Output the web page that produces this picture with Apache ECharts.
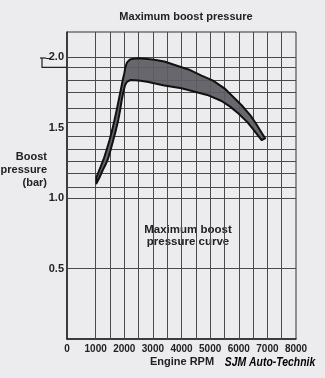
<!DOCTYPE html>
<html><head><meta charset="utf-8">
<script src="https://cdn.jsdelivr.net/npm/echarts@6/dist/echarts.min.js"></script>
<style>html,body{margin:0;padding:0;background:#ecebee;}#c{width:325px;height:378px;}</style>
</head><body><div id="c"></div>
<script>
// Engine RPM / boost pressure (bar)
const upperRpm = [1030, 1090, 1180, 1277, 1380, 1487, 1580, 1660, 1740, 1808, 1880, 1947, 2000, 2035, 2070, 2105, 2200, 2313, 2500, 3000, 3400, 4000, 4300, 4700, 5100, 5500, 5800, 6100, 6400, 6600, 6750, 6920];
const upperBar = [1.15, 1.18, 1.225, 1.275, 1.34, 1.413, 1.485, 1.555, 1.63, 1.697, 1.77, 1.839, 1.885, 1.924, 1.95, 1.966, 1.985, 1.99, 1.993, 1.985, 1.97, 1.93, 1.91, 1.87, 1.835, 1.78, 1.72, 1.66, 1.59, 1.53, 1.48, 1.425];
const lowerRpm = [1030, 1130, 1250, 1340, 1425, 1520, 1616, 1710, 1790, 1860, 1912, 1965, 2017, 2060, 2105, 2210, 2500, 2800, 3400, 4000, 4900, 5400, 5700, 6000, 6300, 6500, 6700, 6800];
const lowerBar = [1.105, 1.145, 1.2, 1.235, 1.275, 1.34, 1.413, 1.485, 1.555, 1.63, 1.697, 1.75, 1.795, 1.815, 1.827, 1.839, 1.835, 1.827, 1.80, 1.78, 1.733, 1.69, 1.65, 1.60, 1.54, 1.49, 1.437, 1.413];
const xTickLabels = ['0','1000','2000','3000','4000','5000','6000','7000','8000'];
const yTickLabels = ['0.5','1.0','1.5','2.0'];
const hGridValues = [0.5, 1.0, 1.082, 1.177, 1.26, 1.355, 1.437, 1.536, 1.638, 1.745, 1.843, 1.926, 2.0];
const vGridValues = [1000,1500,2000,2500,3000,3500,4000,4500,5000,5500,6000,6500,7000,7500];

const FONT = "'Liberation Sans', Arial, sans-serif";
const chart = echarts.init(document.getElementById('c'), null, {renderer:'canvas'});
chart.setOption({
  backgroundColor: '#ecebee',
  animation: false,
  grid: {left: 67, right: 29, top: 32, bottom: 39, show: true, borderColor: '#333', borderWidth: 1},
  xAxis: {
    type: 'value', min: 0, max: 8000, interval: 1000,
    axisLine: {show: true, lineStyle: {color: '#222', width: 1.5}},
    axisTick: {show: false}, splitLine: {show: false},
    axisLabel: {color: '#222', fontSize: 10, fontWeight: 'bold', fontFamily: FONT, margin: 5,
      formatter: v => xTickLabels[Math.round(v/1000)] || ''}
  },
  yAxis: {
    type: 'value', min: 0, max: 2.18, interval: 0.5,
    axisLine: {show: true, lineStyle: {color: '#222', width: 1.5}},
    axisTick: {show: false}, splitLine: {show: false},
    axisLabel: {color: '#222', fontSize: 11, fontWeight: 'bold', fontFamily: FONT, margin: 3,
      padding: [4, 0, 0, 0], showMaxLabel: false,
      formatter: v => { const i = Math.round(v/0.5) - 1; return (Math.abs(v - (i+1)*0.5) < 1e-6 && i >= 0) ? (yTickLabels[i] || '') : ''; }}
  },
  series: [
    {
      type: 'line', data: [], silent: true,
      markLine: {
        silent: true, symbol: 'none', label: {show: false},
        lineStyle: {color: '#4a4a4a', width: 1, type: 'solid'},
        data: hGridValues.map(v => ({yAxis: v})).concat(vGridValues.map(v => ({xAxis: v})))
      }
    },
    {
      type: 'custom', coordinateSystem: 'cartesian2d', data: [[0, 0]], z: 5,
      renderItem: function (params, api) {
        const pts = [];
        for (let i = 0; i < upperRpm.length; i++) pts.push(api.coord([upperRpm[i], upperBar[i]]));
        for (let i = lowerRpm.length - 1; i >= 0; i--) pts.push(api.coord([lowerRpm[i], lowerBar[i]]));
        return {type: 'polygon', shape: {points: pts},
          style: {fill: 'rgba(95,92,100,0.93)', stroke: '#111', lineWidth: 2, lineJoin: 'round'}};
      }
    }
  ],
  graphic: [
    {type: 'text', x: 186, y: 17, style: {text: 'Maximum boost pressure', font: "bold 11px " + FONT, fill: '#222', textAlign: 'center', textVerticalAlign: 'middle'}},
    {type: 'text', x: 47, y: 170, style: {text: 'Boost\npressure\n(bar)', font: "bold 11px " + FONT, fill: '#222', textAlign: 'right', textVerticalAlign: 'middle', lineHeight: 13}},
    {type: 'text', x: 188, y: 236, style: {text: 'Maximum boost\npressure curve', font: "bold 11.5px " + FONT, fill: '#222', textAlign: 'center', textVerticalAlign: 'middle', lineHeight: 12}},
    {type: 'text', x: 182, y: 362, style: {text: 'Engine RPM', font: "bold 11px " + FONT, fill: '#222', textAlign: 'center', textVerticalAlign: 'middle'}},
    {type: 'text', x: 270, y: 362, originX: 0, originY: 0, scaleX: 0.8, style: {text: 'SJM Auto-Technik', font: "italic bold 13px " + FONT, fill: '#000', textAlign: 'center', textVerticalAlign: 'middle'}},
    {type: 'polyline', shape: {points: [[40, 58], [46, 58]]}, style: {stroke: '#222', lineWidth: 1.2}},
    {type: 'polyline', shape: {points: [[42, 58], [42, 67.3], [67, 67.3]]}, style: {stroke: '#222', lineWidth: 1.2, fill: null}},
    {type: 'polyline', shape: {points: [[46, 58.5], [50, 58.5]]}, style: {stroke: '#222', lineWidth: 1}}
  ]
});
</script></body></html>
